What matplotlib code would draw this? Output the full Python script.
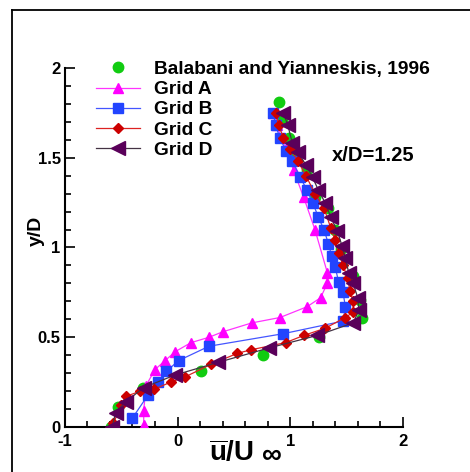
import matplotlib
matplotlib.use('Agg')
import matplotlib.pyplot as plt
from matplotlib.lines import Line2D
from matplotlib.ticker import MultipleLocator, FormatStrFormatter

plt.rcParams['font.family'] = ['Liberation Sans', 'DejaVu Sans']
plt.rcParams['font.weight'] = 'bold'
plt.rcParams['axes.unicode_minus'] = False
plt.rcParams['mathtext.fontset'] = 'custom'
plt.rcParams['mathtext.rm'] = 'Liberation Sans:bold'
plt.rcParams['mathtext.bf'] = 'Liberation Sans:bold'

# Experimental profile (Balabani and Yianneskis, 1996)
exp_y = [0.0, 0.11, 0.22, 0.31, 0.40, 0.50, 0.61, 0.71, 0.84, 0.99, 1.10, 1.22, 1.28, 1.43, 1.52, 1.61, 1.71, 1.81]
exp_u = [-0.59, -0.53, -0.31, 0.21, 0.76, 1.26, 1.64, 1.62, 1.56, 1.45, 1.40, 1.34, 1.22, 1.15, 1.05, 0.99, 0.93, 0.90]

# Grid A
a_y = [0.01, 0.09, 0.23, 0.32, 0.37, 0.42, 0.47, 0.50, 0.53, 0.58, 0.61, 0.67, 0.72, 0.80, 0.86, 1.10, 1.28, 1.43, 1.55, 1.68, 1.75]
a_u = [-0.30, -0.30, -0.28, -0.20, -0.11, -0.02, 0.12, 0.28, 0.40, 0.66, 0.91, 1.15, 1.27, 1.33, 1.33, 1.22, 1.12, 1.03, 0.96, 0.88, 0.85]

# Grid B
b_y = [0.05, 0.18, 0.25, 0.31, 0.37, 0.45, 0.52, 0.59, 0.67, 0.75, 0.81, 0.89, 0.95, 1.02, 1.10, 1.17, 1.25, 1.32, 1.39, 1.48, 1.54, 1.61, 1.68, 1.75]
b_u = [-0.40, -0.26, -0.17, -0.10, 0.01, 0.28, 0.94, 1.47, 1.49, 1.47, 1.43, 1.40, 1.37, 1.34, 1.30, 1.25, 1.20, 1.15, 1.09, 1.02, 0.96, 0.91, 0.87, 0.85]

# Grid C
c_y = [0.02, 0.12, 0.17, 0.20, 0.21, 0.25, 0.28, 0.35, 0.41, 0.43, 0.47, 0.51, 0.55, 0.61, 0.64, 0.70, 0.76, 0.83, 0.90, 0.97, 1.04, 1.11, 1.22, 1.30, 1.40, 1.48, 1.55, 1.61, 1.68, 1.75]
c_u = [-0.57, -0.50, -0.46, -0.33, -0.21, -0.06, 0.07, 0.30, 0.53, 0.65, 0.96, 1.12, 1.31, 1.49, 1.56, 1.56, 1.53, 1.51, 1.47, 1.43, 1.40, 1.36, 1.30, 1.22, 1.14, 1.07, 1.00, 0.94, 0.90, 0.87]

# Grid D
d_y = [0.0, 0.08, 0.14, 0.22, 0.29, 0.36, 0.44, 0.51, 0.58, 0.65, 0.72, 0.80, 0.86, 0.94, 1.01, 1.09, 1.17, 1.25, 1.32, 1.39, 1.46, 1.53, 1.58, 1.68, 1.75]
d_u = [-0.58, -0.55, -0.46, -0.30, -0.02, 0.36, 0.81, 1.24, 1.56, 1.61, 1.60, 1.56, 1.52, 1.49, 1.46, 1.42, 1.36, 1.31, 1.25, 1.20, 1.14, 1.07, 1.02, 0.98, 0.94]

fig = plt.figure(figsize=(4.7, 4.72), dpi=100)
ax = fig.add_axes([0.138, 0.0953, 0.719, 0.7607])

ax.plot(exp_u, exp_y, linestyle='none', marker='o', color='#11cc11', ms=7.5,
        label='Balabani and Yianneskis, 1996', zorder=2)
ax.plot(a_u, a_y, '-', color='#ff33ff', lw=0.9, marker='^', ms=6.5,
        mfc='#ff00ff', mec='#ff00ff', label='Grid A', zorder=3)
ax.plot(b_u, b_y, '-', color='#4455ff', lw=0.9, marker='s', ms=6.5,
        mfc='#2244ff', mec='#2244ff', label='Grid B', zorder=4)
ax.plot(c_u, c_y, '-', color='#dd2222', lw=0.9, marker='D', ms=5.5,
        mfc='#cc0000', mec='#cc0000', label='Grid C', zorder=5)
ax.plot(d_u, d_y, '-', color='#443344', lw=0.9, marker='<', ms=10,
        mfc='#5a005a', mec='#5a005a', label='Grid D', zorder=6)

ax.set_xlim(-1, 2)
ax.set_ylim(0, 2)
ax.xaxis.set_major_locator(MultipleLocator(1))
ax.xaxis.set_minor_locator(MultipleLocator(0.2))
ax.yaxis.set_major_locator(MultipleLocator(0.5))
ax.yaxis.set_minor_locator(MultipleLocator(0.1))
ax.xaxis.set_major_formatter(FormatStrFormatter('%g'))
ax.yaxis.set_major_formatter(FormatStrFormatter('%g'))
ax.tick_params(which='both', direction='in', width=1.2, labelsize=12)
ax.tick_params(which='major', length=7)
ax.tick_params(which='minor', length=4)
ax.tick_params(axis='x', pad=5)
ax.tick_params(axis='y', pad=3)
ax.spines['top'].set_visible(False)
ax.spines['right'].set_visible(False)
ax.spines['left'].set_linewidth(1.5)
ax.spines['bottom'].set_linewidth(1.5)
for lab in ax.get_xticklabels() + ax.get_yticklabels():
    lab.set_fontweight('bold')

# x label: u-bar / U, with a full-size infinity sign after it
ax.set_xlabel(r'$\overline{\mathrm{u}}/\mathrm{U}$', fontsize=20)
ax.xaxis.set_label_coords(0.494, -0.036)
ax.annotate('\u221e', xy=(1, 0), xycoords=ax.xaxis.label,
            xytext=(8, -2), textcoords='offset pixels',
            ha='left', va='bottom', fontsize=20, fontweight='bold')
ax.set_ylabel('y/D', fontsize=14, fontweight='bold')
ax.yaxis.set_label_coords(-0.058, 0.545)

ax.text(1.37, 1.48, 'x/D=1.25', fontsize=14.5, fontweight='bold')

leg = ax.legend(loc='upper left', bbox_to_anchor=(0.093, 1.02), frameon=False,
                fontsize=13.8, handlelength=2.3, handletextpad=0.7,
                labelspacing=0.14, borderpad=0, borderaxespad=0)
for t in leg.get_texts():
    t.set_fontweight('bold')

# outer frame along the top and left edges
fig.add_artist(Line2D([12 / 470, 12 / 470], [0, 1 - 10 / 472], color='black', lw=1.3))
fig.add_artist(Line2D([12 / 470, 1], [1 - 10 / 472, 1 - 10 / 472], color='black', lw=1.3))

fig.savefig('out.png', dpi=100)
